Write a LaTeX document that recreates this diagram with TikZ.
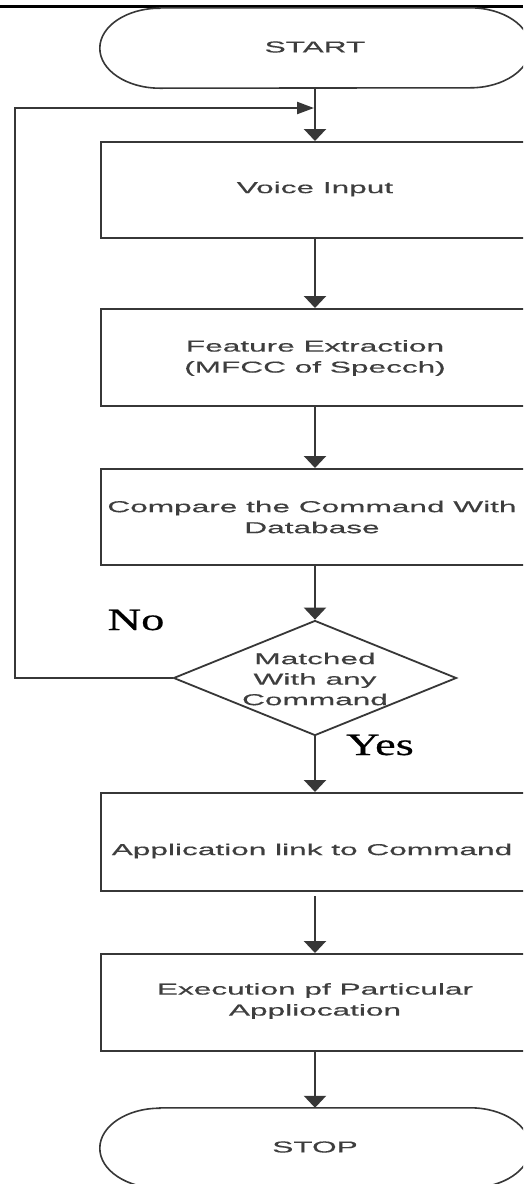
\documentclass[tikz,border=0pt]{standalone}
\usepackage{fontspec}
\usetikzlibrary{arrows.meta,shapes.geometric,calc}
\newfontfamily\flowfont[FakeStretch=2,FakeBold=0.4]{Liberation Sans}
\newfontfamily\answerfont[FakeStretch=1.5,FakeBold=0.6]{Liberation Serif}
\definecolor{edge}{RGB}{55,55,55}
\definecolor{ink}{RGB}{62,62,62}

% outline of a terminator with elliptic ends around an invisible node
\newcommand\termoutline[1]{%
  \draw[termline] ($(#1.north west)+(60pt,0pt)$) -- ($(#1.north east)+(-60pt,0pt)$)
    arc[start angle=90,end angle=-90,x radius=60pt,y radius=40pt]
    -- ($(#1.south west)+(60pt,0pt)$)
    arc[start angle=270,end angle=90,x radius=60pt,y radius=40pt] -- cycle;}

\begin{document}
\begin{tikzpicture}[x=1pt,y=-1pt,
  flow/.style={draw=edge,line width=2.2pt,-{Triangle[width=22pt,length=12pt]}},
  procbox/.style={draw=edge,line width=2.2pt,minimum width=428pt,inner sep=0pt,anchor=north},
  termbox/.style={minimum width=430pt,minimum height=80pt,inner sep=0pt},
  termline/.style={draw=edge,line width=1.6pt},
  boxtext/.style={font=\flowfont\fontsize{15.8}{21}\selectfont,text=ink,align=center,inner sep=0pt},
  answer/.style={font=\answerfont\fontsize{31}{31}\selectfont,text=black,inner sep=0pt}]

\useasboundingbox (0,0) rectangle (523,1184);
\clip (0,0) rectangle (523,1184);
\fill[white] (0,0) rectangle (523,1184);

% rule across the top
\draw[black,line width=3pt] (0,6) -- (523,6);

% terminators
\node[termbox] (start) at (315,48) {};
\termoutline{start}
\node[boxtext] (start-t) at (315,47) {START};

\node[termbox] (stop) at (315,1148) {};
\termoutline{stop}
\node[boxtext] (stop-t) at (315,1147) {STOP};

% process boxes
\node[procbox,minimum height=96pt] (voice) at (315,141) {};
\node[boxtext] (voice-t) at (315,189) {Voice Input};

\node[procbox,minimum height=97pt] (feat) at (315,308) {};
\node[boxtext] (feat-t) at (315,358) {Feature Extraction\\(MFCC of Specch)};

\node[procbox,minimum height=96pt] (comp) at (315,468) {};
\node[boxtext] (comp-t) at (312,517) {Compare the Command With\\Database};

\node[procbox,minimum height=98pt] (app) at (315,792) {};
\node[boxtext] (app-t) at (312,851) {Application link to Command};

\node[procbox,minimum height=97pt] (exec) at (315,953) {};
\node[boxtext] (exec-t) at (315,1001) {Execution pf Particular\\Appliocation};

% decision
\node[draw=edge,line width=1.8pt,shape=diamond,minimum width=283pt,minimum height=115pt,inner sep=0pt] (match) at (315,678) {};
\node[boxtext,font=\flowfont\fontsize{15.8}{20.5}\selectfont] (match-t) at (315,679) {Matched\\With any\\Command};

% branch labels
\node[answer] (no) at (136,620) {No};
\node[answer] (yes) at (380,745) {Yes};

% main flow
\draw[flow] (start.south) -- (voice.north);
\draw[flow] (voice.south) -- (feat.north);
\draw[flow] (feat.south) -- (comp.north);
\draw[flow] (comp.south) -- (match.north);
\draw[flow] (match.south) -- (app.north);
\draw[flow,shorten <=4pt] (app.south) -- (exec.north);
\draw[flow] (exec.south) -- (stop.north);

% loop back on "No"
\coordinate (join) at (314,108);
\coordinate (loopx) at (15,0);
\draw[draw=edge,line width=2.2pt,-{Triangle[width=12pt,length=17pt]}]
  (match.west) -- (match.west -| loopx) |- (join);

\end{tikzpicture}
\end{document}
